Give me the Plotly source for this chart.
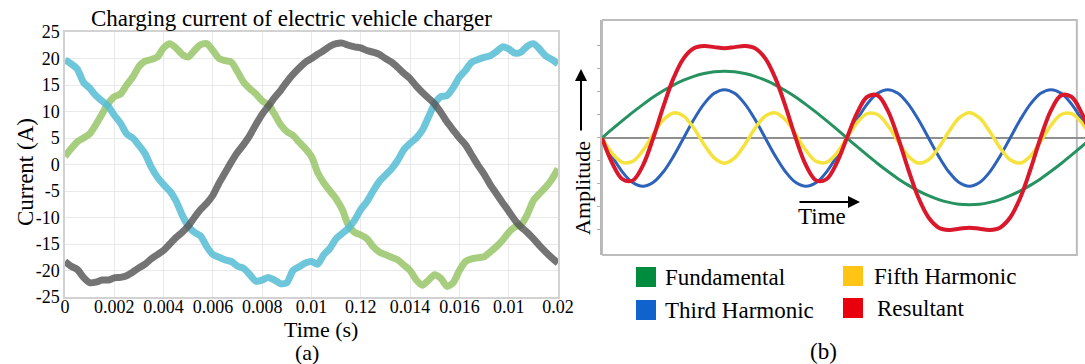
import plotly.graph_objects as go

SERIF = "Liberation Serif, Times New Roman, serif"
W, H = 1085, 364

# ---------------- panel (a): three-phase charging current ----------------
time_s = [k * 0.00025 for k in range(81)]

current_green = [
    1.5, 3.0, 4.3, 5.0, 5.8, 7.5, 9.5, 11.5, 12.8, 13.3,
    15.0, 16.5, 18.5, 19.5, 19.8, 20.3, 22.0, 22.8, 22.0, 20.8,
    20.3, 21.5, 22.6, 22.8, 21.5, 20.0, 19.6, 19.3, 17.5, 15.5,
    14.3, 13.3, 12.0, 11.3, 9.5, 7.5, 6.2, 5.5, 4.2, 3.0,
    1.5, -1.5, -3.5, -5.0, -6.5, -8.5, -11.5, -12.8, -13.3, -14.0,
    -15.5, -16.5, -17.0, -17.5, -18.0, -19.0, -20.0, -21.8, -22.8, -21.8,
    -20.8, -21.5, -23.0, -22.3, -20.0, -18.3, -17.8, -17.6, -17.4, -16.5,
    -15.5, -14.3, -12.8, -11.8, -11.4, -9.5, -6.8, -5.5, -4.3, -2.8,
    -0.8,
]
current_cyan = [
    19.7, 19.0, 18.0, 15.5, 14.4, 13.0, 12.0, 11.0, 9.3, 7.8,
    5.8, 5.0, 3.6, 2.0, -0.5, -2.4, -3.8, -5.0, -6.8, -9.5,
    -11.6, -12.8, -13.5, -15.5, -17.0, -17.5, -18.0, -18.3, -19.2, -19.6,
    -20.8, -22.0, -21.8, -21.3, -21.8, -22.5, -22.3, -20.0, -19.3, -18.6,
    -18.3, -18.8, -17.0, -15.8, -14.0, -13.0, -12.0, -10.5, -8.5, -7.0,
    -5.0, -3.2, -2.0, -0.8, 0.8, 2.8, 4.0, 5.0, 6.5, 9.0,
    11.5, 12.8, 13.0, 14.5, 16.5, 17.8, 19.3, 19.8, 20.2, 20.5,
    21.3, 22.2, 21.8, 21.0, 21.2, 22.3, 22.8, 21.8, 20.5, 19.8,
    19.0,
]
current_gray = [
    -18.3, -19.2, -19.8, -21.3, -22.3, -22.2, -21.8, -21.8, -21.4, -21.3,
    -21.0, -20.3, -19.5, -18.8, -17.8, -17.0, -16.2, -15.0, -13.8, -12.8,
    -11.6, -10.0, -8.5, -7.3, -5.8, -3.5, -1.5, 0.5, 2.3, 3.8,
    5.5, 7.6, 9.5, 11.0, 12.6, 14.0, 15.6, 17.0, 18.2, 19.3,
    20.0, 20.8, 21.5, 22.3, 22.8, 22.9, 22.5, 22.2, 22.0, 21.5,
    21.2, 20.8, 20.0, 19.3, 18.3, 17.2, 16.2, 14.8, 13.6, 12.5,
    11.4, 9.8, 8.0, 6.5, 5.0, 3.7, 1.8, -0.1, -1.8, -3.8,
    -5.5, -7.2, -8.8, -10.5, -11.8, -12.8, -14.0, -15.3, -16.5, -17.6,
    -18.6,
]

time_tick_vals = [0, 0.002, 0.004, 0.006, 0.008, 0.010, 0.012, 0.014, 0.016, 0.018, 0.020]
time_tick_text = ["0", "0.002", "0.004", "0.006", "0.008", "0.01", "0.12",
                  "0.014", "0.016", "0.01", "0.02"]
current_tick_vals = [-25, -20, -15, -10, -5, 0, 5, 10, 15, 20, 25]
current_tick_text = ["-25", "-20", "-15", "-10", "-5", "0", "5", "10", "15", "20", "25"]

phase_colors = ["rgba(152,198,104,0.85)", "rgba(84,188,212,0.85)", "rgba(86,86,86,0.82)"]

# ---------------- panel (b): harmonic composition ----------------
phase_deg = [k * 7.5 for k in range(49)]

fundamental = [
    0, 0.38, 0.75, 1.11, 1.45, 1.77, 2.05, 2.30, 2.51, 2.68, 2.80, 2.88, 2.90,
    2.88, 2.80, 2.68, 2.51, 2.30, 2.05, 1.77, 1.45, 1.11, 0.75, 0.38, 0,
    -0.38, -0.75, -1.11, -1.45, -1.77, -2.05, -2.30, -2.51, -2.68, -2.80, -2.88, -2.90,
    -2.88, -2.80, -2.68, -2.51, -2.30, -2.05, -1.77, -1.45, -1.11, -0.75, -0.38, 0,
]
third_harmonic = [
    0, -0.80, -1.48, -1.94, -2.10, -1.94, -1.48, -0.80, 0, 0.80, 1.48, 1.94, 2.10, 1.94, 1.48, 0.80,
    0, -0.80, -1.48, -1.94, -2.10, -1.94, -1.48, -0.80, 0, 0.80, 1.48, 1.94, 2.10, 1.94, 1.48, 0.80,
    0, -0.80, -1.48, -1.94, -2.10, -1.94, -1.48, -0.80, 0, 0.80, 1.48, 1.94, 2.10, 1.94, 1.48, 0.80,
    0,
]
fifth_harmonic = [
    0, -0.67, -1.06, -1.02, -0.55, 0.14, 0.78, 1.09, 0.95, 0.42, -0.28, -0.87, -1.10,
    -0.87, -0.28, 0.42, 0.95, 1.09, 0.78, 0.14, -0.55, -1.02, -1.06, -0.67, 0,
    0.67, 1.06, 1.02, 0.55, -0.14, -0.78, -1.09, -0.95, -0.42, 0.28, 0.87, 1.10,
    0.87, 0.28, -0.42, -0.95, -1.09, -0.78, -0.14, 0.55, 1.02, 1.06, 0.67, 0,
]
# the resultant wave is the sum of the three components
resultant = [f + t + v for f, t, v in zip(fundamental, third_harmonic, fifth_harmonic)]

wave_colors = {
    "Fundamental": "rgb(38,146,96)",
    "Third Harmonic": "rgb(44,98,186)",
    "Fifth Harmonic": "rgb(246,226,60)",
    "Resultant": "rgb(218,24,44)",
}
wave_widths = {"Fundamental": 3, "Third Harmonic": 3, "Fifth Harmonic": 3.5, "Resultant": 4}

legend_names = ["Fundamental", "Fifth Harmonic", "Third Harmonic", "Resultant"]
legend_swatch = ["rgb(0,140,62)", "rgb(255,196,20)", "rgb(16,98,204)", "rgb(232,0,12)"]


def px(x):
    return x / W


def py(y):
    return 1 - y / H


fig = go.Figure()

for values, color in zip([current_green, current_cyan, current_gray], phase_colors):
    fig.add_trace(go.Scatter(
        x=time_s, y=values, mode="lines",
        line=dict(color=color, width=7, shape="spline", smoothing=0.7),
        xaxis="x", yaxis="y", showlegend=False, hoverinfo="skip",
    ))

for name, values in [("Fundamental", fundamental), ("Third Harmonic", third_harmonic),
                     ("Fifth Harmonic", fifth_harmonic), ("Resultant", resultant)]:
    fig.add_trace(go.Scatter(
        x=phase_deg, y=values, mode="lines", name=name,
        line=dict(color=wave_colors[name], width=wave_widths[name], shape="spline", smoothing=1.0),
        xaxis="x2", yaxis="y2", showlegend=False, hoverinfo="skip",
    ))

tick_font = dict(family=SERIF, size=18, color="black")
label_font = dict(family=SERIF, size=23, color="black")

fig.update_layout(
    template="none",
    width=W, height=H,
    margin=dict(l=0, r=0, t=0, b=0),
    paper_bgcolor="white", plot_bgcolor="white",
    xaxis=dict(
        domain=[px(65), px(558)], range=[0, 0.02], anchor="y",
        tickmode="array", tickvals=time_tick_vals, ticktext=time_tick_text,
        tickfont=tick_font, ticks="", ticklabelstandoff=-7,
        showgrid=True, gridcolor="rgba(228,228,228,0.8)",
        gridwidth=1, showline=True, mirror=True, linecolor="#d2d2d2", linewidth=1.5,
        zeroline=False, automargin=False,
    ),
    yaxis=dict(
        domain=[py(297), py(32)], range=[-25, 25], anchor="x",
        tickmode="array", tickvals=current_tick_vals, ticktext=current_tick_text,
        tickfont=tick_font, ticks="", showgrid=True, gridcolor="rgba(228,228,228,0.8)",
        gridwidth=1, showline=True, mirror=True, linecolor="#d2d2d2", linewidth=1.5,
        zeroline=False, automargin=False,
    ),
    xaxis2=dict(
        domain=[px(602), 1.0], range=[0, 355], anchor="y2",
        visible=False, showgrid=False, zeroline=False, automargin=False,
    ),
    yaxis2=dict(
        domain=[py(255), py(20)], range=[-5.09, 5.13], anchor="x2",
        tickmode="array", tickvals=[-4, -3, -2, -1, 0, 1, 2, 3, 4],
        showticklabels=False, ticks="outside", ticklen=3, tickcolor="#b0b0b0",
        showgrid=False, zeroline=True, zerolinecolor="#8f8f8f", zerolinewidth=1.5,
        showline=True, linecolor="#b8b8b8", linewidth=2, automargin=False,
    ),
)

# frame around the harmonic diagram
fig.add_shape(type="rect", xref="x2", yref="y2 domain", x0=0, x1=349, y0=0, y1=1,
              line=dict(color="#bcbcbc", width=2), layer="below")

annotations = [
    dict(text="Charging current of electric vehicle charger", x=px(291), y=py(18)),
    dict(text="Current (A)", x=px(25), y=py(172), textangle=-90),
    dict(text="Time (s)", x=px(321), y=py(329), size=22),
    dict(text="(a)", x=px(307), y=py(352), size=22),
    dict(text="Amplitude", x=px(582), y=py(188), textangle=-90, size=22),
    dict(text="Time", x=px(822), y=py(216)),
    dict(text="(b)", x=px(823), y=py(351)),
]
for a in annotations:
    size = a.pop("size", label_font["size"])
    fig.add_annotation(xref="paper", yref="paper", showarrow=False,
                       xanchor="center", yanchor="middle",
                       font=dict(family=SERIF, size=size, color="black"), **a)

# axis arrows of the harmonic diagram
fig.add_annotation(xref="paper", yref="paper", x=px(581), y=py(69), ax=0, ay=63,
                   text="", showarrow=True, arrowhead=2, arrowsize=1.2, arrowwidth=2,
                   arrowcolor="black")
fig.add_annotation(xref="paper", yref="paper", x=px(860), y=py(202), ax=-62, ay=0,
                   text="", showarrow=True, arrowhead=2, arrowsize=1.2, arrowwidth=2,
                   arrowcolor="black")

# legend swatches and labels of the harmonic diagram
swatch_left = [636, 843, 636, 843]
swatch_top = [267, 266, 300, 298]
text_left = [663, 872, 663, 875]
for name, color, sx, sy, tx in zip(legend_names, legend_swatch, swatch_left, swatch_top, text_left):
    fig.add_shape(type="rect", xref="paper", yref="paper",
                  x0=px(sx), x1=px(sx + 20), y0=py(sy + 20), y1=py(sy),
                  line=dict(width=0), fillcolor=color)
    fig.add_annotation(xref="paper", yref="paper", x=px(tx), y=py(sy + 10),
                       text=name, showarrow=False, xanchor="left", yanchor="middle",
                       font=label_font)

fig.write_html("out.html")
